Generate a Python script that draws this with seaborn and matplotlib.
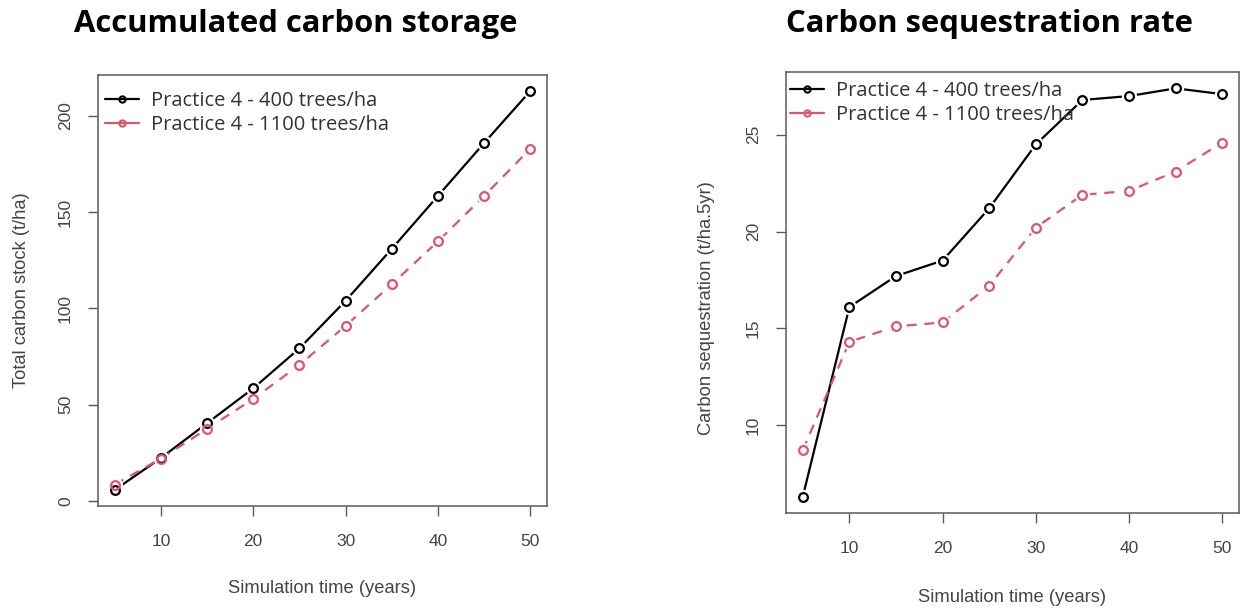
import matplotlib
matplotlib.use("Agg")
import matplotlib.pyplot as plt
from matplotlib.lines import Line2D
import seaborn as sns

# Simulation years
years = [5, 10, 15, 20, 25, 30, 35, 40, 45, 50]

# Accumulated carbon stock (t/ha)
stock_400 = [5.7, 22.3, 40.4, 58.5, 79.3, 104.0, 131.0, 158.5, 186.0, 213.0]
stock_1100 = [8.5, 22.0, 37.5, 53.0, 70.7, 91.0, 112.6, 134.9, 158.5, 183.0]

# Carbon sequestration per 5-year step (t/ha.5yr)
seq_400 = [6.3, 16.1, 17.7, 18.5, 21.2, 24.5, 26.8, 27.0, 27.4, 27.1]
seq_1100 = [8.7, 14.3, 15.1, 15.3, 17.2, 20.2, 21.9, 22.1, 23.1, 24.6]

series_labels = ["Practice 4 - 400 trees/ha", "Practice 4 - 1100 trees/ha"]
panel_titles = ["Accumulated carbon storage", "Carbon sequestration rate"]
y_labels = ["Total carbon stock (t/ha)", "Carbon sequestration (t/ha.5yr)"]
x_label = "Simulation time (years)"
x_ticks = [10, 20, 30, 40, 50]
y_ticks_left = [0, 50, 100, 150, 200]
y_ticks_right = [10, 15, 20, 25]

colors = ["#000000", "#DF536B"]
line_styles = ["-", (0, (4.5, 3.5))]

sns.set_theme(style="white")
plt.rcParams["font.family"] = ["Liberation Sans", "DejaVu Sans"]

W, H = 1240, 610
fig = plt.figure(figsize=(W / 100, H / 100), dpi=100)
ax_left = fig.add_axes([98 / W, 1 - 506 / H, 449 / W, 431 / H])
ax_right = fig.add_axes([786 / W, 1 - 513 / H, 453 / W, 441 / H])

text_grey = "#444444"
frame_grey = "#5a5a5a"


def r_range(values):
    lo, hi = min(values), max(values)
    pad = (hi - lo) * 0.04
    return lo - pad, hi + pad


def draw_panel(ax, series, yticks, ylabel, ylabel_xy, xlabel_y, legend_anchor):
    # connecting lines
    for vals, col, ls in zip(series, colors, line_styles):
        sns.lineplot(x=years, y=vals, ax=ax, color=col, linestyle=ls,
                     linewidth=1.6, sort=False, estimator=None)
    # white gaps around the points
    for vals in series:
        sns.lineplot(x=years, y=vals, ax=ax, linestyle="none", marker="o",
                     markersize=11, markerfacecolor="white",
                     markeredgecolor="white", markeredgewidth=0,
                     estimator=None)
    # open circle markers
    for vals, col in zip(series, colors):
        sns.lineplot(x=years, y=vals, ax=ax, linestyle="none", marker="o",
                     markersize=6.3, markerfacecolor="none",
                     markeredgecolor=col, markeredgewidth=1.6,
                     estimator=None)

    ax.set_xlim(r_range(years))
    ax.set_ylim(r_range([v for s in series for v in s]))
    ax.set_xticks(x_ticks)
    ax.set_yticks(yticks)
    ax.tick_params(axis="both", direction="out", length=7, width=1,
                   color=frame_grey, labelcolor=text_grey, labelsize=12.5,
                   bottom=True, left=True)
    ax.tick_params(axis="x", pad=13)
    ax.tick_params(axis="y", pad=11)
    for lab in ax.get_yticklabels():
        lab.set_rotation(90)
        lab.set_va("center")
    for sp in ax.spines.values():
        sp.set_color(frame_grey)
        sp.set_linewidth(1.1)
    ax.set_xlabel(x_label, fontsize=13.2, color=text_grey)
    ax.set_ylabel(ylabel, fontsize=13.2, color=text_grey)
    ax.xaxis.set_label_coords(0.5, xlabel_y)
    ax.yaxis.set_label_coords(*ylabel_xy)

    handles = [Line2D([0], [0], color=c, linewidth=1.6, marker="o",
                      markersize=4.5, markerfacecolor="none",
                      markeredgewidth=1.5)
               for c in colors]
    leg = ax.legend(handles, series_labels, loc="upper left",
                    bbox_to_anchor=legend_anchor, frameon=False,
                    prop={"family": "Open Sans", "size": 14.5},
                    handlelength=1.7, handletextpad=0.6, labelspacing=0.22,
                    borderaxespad=0, borderpad=0)
    for t in leg.get_texts():
        t.set_color("#333333")


draw_panel(ax_left, [stock_400, stock_1100], y_ticks_left, y_labels[0],
           (-0.151, 0.5), -0.172, (0.0156, 0.963))
draw_panel(ax_right, [seq_400, seq_1100], y_ticks_right, y_labels[1],
           (-0.157, 0.465), -0.173, (0.009, 0.98))

for title, cx in zip(panel_titles, [296, 990]):
    fig.text(cx / W, 1 - 24 / H, title, ha="center", va="center",
             fontsize=22.3, fontweight="bold", family="Open Sans",
             color="black")

fig.savefig("out.png", dpi=100, facecolor="white")
